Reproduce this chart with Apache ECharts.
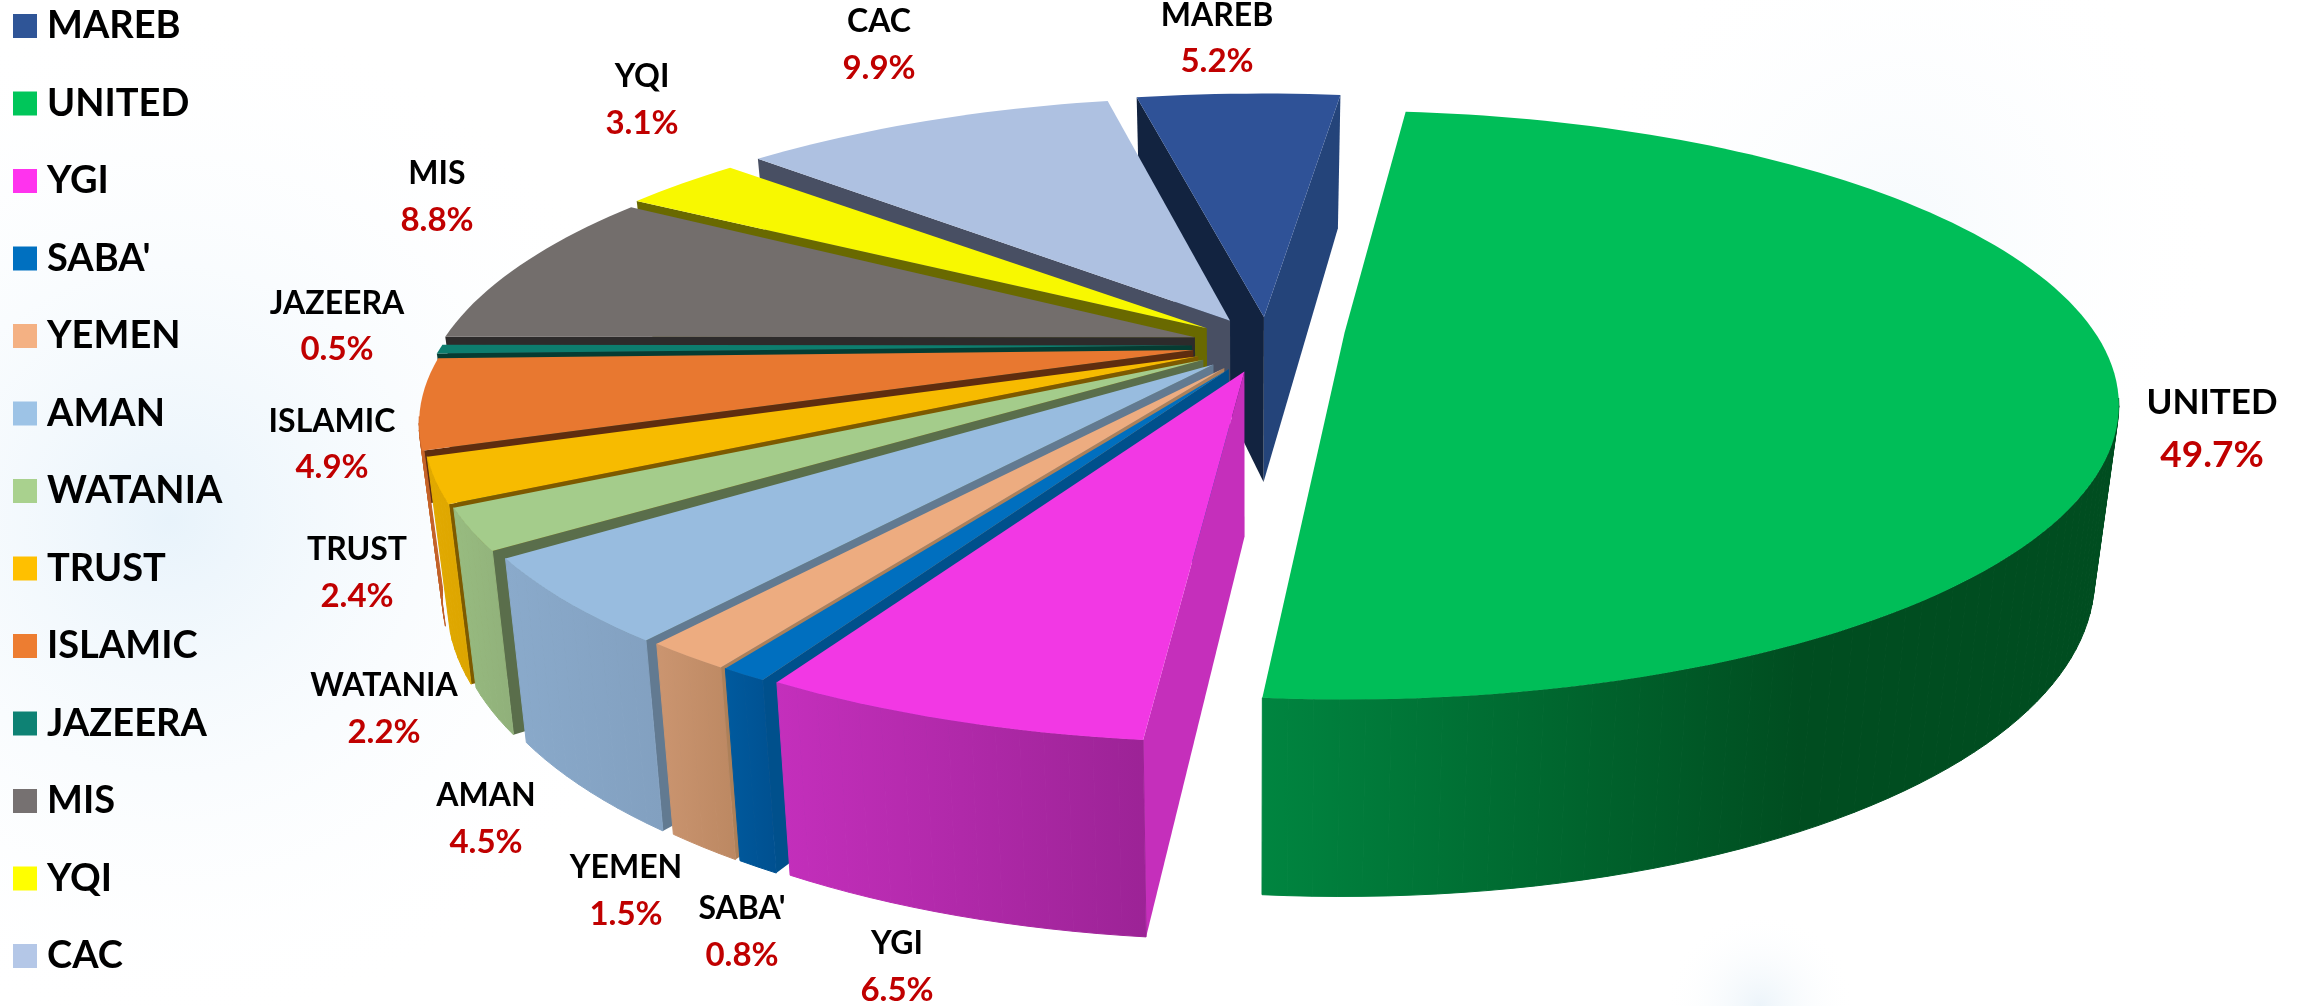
<!DOCTYPE html>
<html>
<head>
<meta charset="utf-8">
<style>html,body{margin:0;padding:0;background:#fff}#c{width:2313px;height:1006px}</style>
<script src="https://cdn.jsdelivr.net/npm/echarts@6/dist/echarts.min.js"></script>
</head>
<body>
<div id="c"></div>
<script>
// ---- data ----
const categories = ['MAREB','UNITED','YGI',"SABA'",'YEMEN','AMAN','WATANIA','TRUST','ISLAMIC','JAZEERA','MIS','YQI','CAC'];
const shares = [5.2,49.7,6.5,0.8,1.5,4.5,2.2,2.4,4.9,0.5,8.8,3.1,9.9];
// ---- colours ----
const legendColors = ['#2F5597','#00C65A','#FF33EE','#0070C0','#F4B183','#9DC3E6','#A9D18E','#FFC000','#ED7D31','#0E8274','#767171','#FFFF00','#B4C7E7'];
const topColors    = ['#2F5297','#00BE58','#F238E4','#006FBF','#EDAC80','#98BCDF','#A4CC8B','#F7BB00','#E87830','#0D7D6E','#736E6C','#F8F800','#AEC1E1'];
const edgeColors   = ['#122340','#00602C','#C52FBB','#00508C','#AD8059','#627A91','#5A6E4B','#7D5A00','#5F2D0F','#053C32','#2D2B2B','#696900','#484F63'];
const rimLight     = ['#24447A','#008540','#C42FBC','#005A9E','#CB9570','#8AAACB','#98BC80','#E2AA00','#C86428','#0A5F52','#5A5654','#C8C800','#8C9AB4'];
const rimDark      = ['#24447A','#004D20','#9C2396','#005090','#BC8862','#82A0C0','#90B07A','#DCA500','#C06028','#0A5F52','#5A5654','#C8C800','#8C9AB4'];
const endWallColor = '#24447A';
// ---- layout ----
const CX = 1267, CY = 345, RX = 750, RY = 279, K = 0.248, START = -11.4;
const EXPLODE = [0.10,0.104,0.10,0.10,0.10,0.10,0.10,0.10,0.10,0.10,0.10,0.10,0.10];
const SHIFT_Y = [0,-15.5,0,0,0,0,0,0,0,0,0,0,0];
const TWIST   = [-0.3,-1.5,-0.4,-0.5,-0.5,-0.5,0,0,0,0,0,-0.8,-0.3];
const XSCALE  = [1.04,1,1,1,1,1,1,1,1,1,1,1,1];
const YSCALE  = [1,0.99,1,1,1,1,1,1,1,1,1,1,1];
const EDGE_H  = [1,1,1,1,1,1,1,1,0.3,1,1,1,1];
const PAINT_Z = [1,13,12,11,10,9,8,7,6,5,4,3,2];
const VX = 1250, SHRINK = 0.972, H0 = 165, HV = 32;
const FRONT_FROM = 103, FRONT_TO = 257;
const labelAnchors = [[1217,16,61],[2212,403,455],[897,944,990],[742,909,955],[626,868,914],[486,796,842],[384,686,732],[357,550,596],[332,422,467],[337,304,349],[437,174,220],[642,77,123],[879,22,68]];
const nameSizes = [32,35,32,32,32,32,32,32,32,32,32,32,32];
const pctSizes  = [33,37,33,33,33,33,33,33,33,33,33,33,33];
const LABEL_FONT = 'Lato';

const total = shares.reduce((a,b)=>a+b,0);
const rad = d => d*Math.PI/180;
function sliceGeom(i){
  let cum = 0; for(let j=0;j<i;j++) cum += shares[j];
  const a1 = START + 360*cum/total + TWIST[i];
  const a2 = START + 360*(cum+shares[i])/total + TWIST[i];
  const b = (a1+a2)/2;
  return {i,a1,a2,ax:CX+RX*EXPLODE[i]*Math.sin(rad(b)),ay:CY-RY*EXPLODE[i]*Math.cos(rad(b))+SHIFT_Y[i]};
}
function topPt(g,a){
  const u=Math.sin(rad(a)), v=-Math.cos(rad(a)), w=1-K*v;
  return [g.ax+RX*XSCALE[g.i]*u/w, g.ay+RY*YSCALE[g.i]*v/w, v];
}
function lower(p,f){ const s=f===undefined?1:f; return [p[0]+(VX-p[0])*(1-SHRINK)*s, p[1]+(H0+HV*p[2])*s]; }
function arc(g,a1,a2){
  const pts=[], n=Math.max(2,Math.ceil((a2-a1)/1.5));
  for(let t=0;t<=n;t++) pts.push(topPt(g,a1+(a2-a1)*t/n));
  return pts;
}
function renderItem(params, api){
  const i = params.seriesIndex;
  const g = sliceGeom(i);
  const apex=[g.ax,g.ay,0], top=arc(g,g.a1,g.a2);
  const first=top[0], last=top[top.length-1], eh=EDGE_H[i];
  const xy=p=>[p[0],p[1]];
  const poly=(points,fill,stroke)=>({type:'polygon',shape:{points},style:stroke?{fill,stroke,lineWidth:1}:{fill,stroke:null}});
  const children=[];
  if(i===0) children.push(poly([xy(apex),xy(last),lower(last),lower(apex)],endWallColor));
  if(i!==1) children.push(poly([xy(apex),xy(first),lower(first,eh),lower(apex,eh)],edgeColors[i]));
  // outer wall: swept strip by strip over the front-facing part of the arc
  const f1=Math.max(g.a1,FRONT_FROM), f2=Math.min(g.a2,FRONT_TO);
  if(f2>f1){
    const front=arc(g,f1,f2), low=front.map(p=>lower(p));
    const xs=front.concat(low).map(p=>p[0]);
    const x0=i===1?1263:Math.min(...xs), x1=i===1?1800:Math.max(...xs);
    const grad=new echarts.graphic.LinearGradient(x0,0,x1,0,[{offset:0,color:rimLight[i]},{offset:1,color:rimDark[i]}],true);
    for(let k=0;k<front.length-1;k++){
      children.push(poly([xy(front[k]),xy(front[k+1]),low[k+1],low[k]],grad,grad));
    }
  }
  children.push(poly([xy(apex)].concat(top.map(xy)),topColors[i]));
  const [lx,ly1,ly2]=labelAnchors[i];
  const txt=(text,y,fill,size)=>({type:'text',z2:50,style:{text,x:lx,y,fill,fontFamily:LABEL_FONT,fontWeight:'bold',fontSize:size,align:'center',verticalAlign:'middle'}});
  children.push(txt(categories[i],ly1,'#000000',nameSizes[i]));
  children.push(txt(api.value(0).toFixed(1)+'%',ly2,'#C00000',pctSizes[i]));
  return {type:'group',children};
}
const glow=(cx,cy,r,c)=>({type:'circle',z:-10,silent:true,shape:{cx,cy,r},style:{fill:new echarts.graphic.RadialGradient(0.5,0.5,0.5,[{offset:0,color:c},{offset:1,color:'rgba(255,255,255,0)'}])}});

const chart = echarts.init(document.getElementById('c'),null,{renderer:'canvas',width:2313,height:1006});
chart.setOption({
  animation:false,
  backgroundColor:'#ffffff',
  graphic:[glow(170,520,520,'rgba(232,243,251,1)'),glow(1900,230,330,'rgba(246,250,253,1)'),glow(1760,1006,95,'rgba(236,244,250,1)')],
  legend:{
    orient:'vertical',left:13,top:7,padding:0,itemWidth:24,itemHeight:24,itemGap:39.5,
    icon:'rect',selectedMode:false,
    data:categories.map((n,i)=>({name:n,itemStyle:{color:legendColors[i]}})),
    textStyle:{color:'#000',fontFamily:LABEL_FONT,fontWeight:'bold',fontSize:38,padding:[0,0,0,5]}
  },
  series:categories.map((n,i)=>({
    type:'custom',name:n,coordinateSystem:'none',z:PAINT_Z[i]+2,
    itemStyle:{color:legendColors[i]},
    renderItem,clip:false,silent:true,
    data:[[shares[i]]]
  }))
});
</script>
</body>
</html>
